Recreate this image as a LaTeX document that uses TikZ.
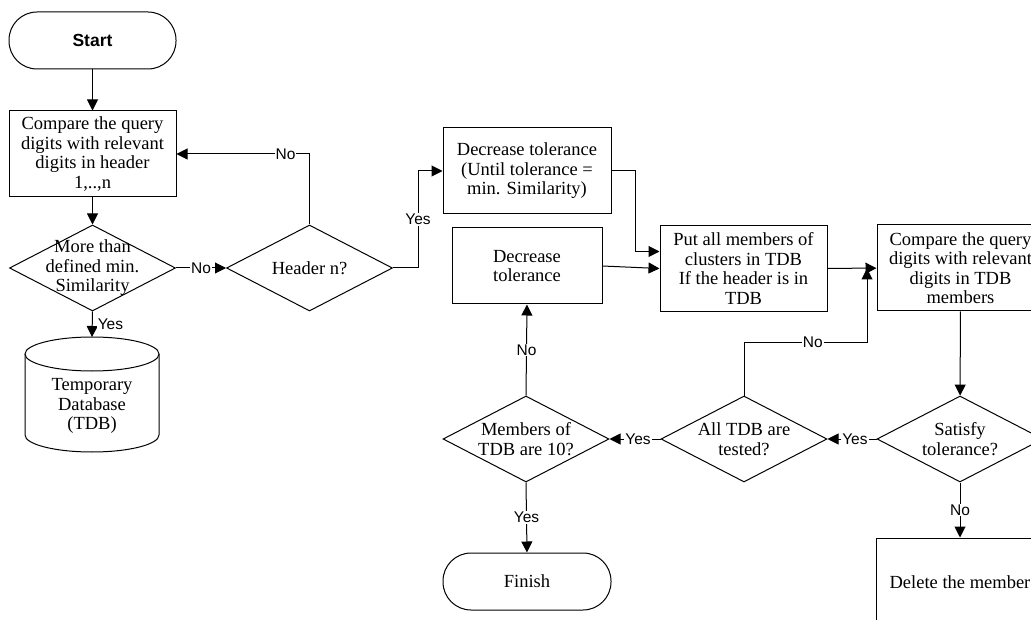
\documentclass[tikz,border=0pt]{standalone}
\usepackage{fontspec}
\setmainfont{Liberation Serif}
\newfontfamily\arialfont{Liberation Sans}
\usetikzlibrary{shapes.geometric,arrows.meta}

\tikzset{
	box/.style={draw, rectangle, align=center, minimum width=167pt, minimum height=86pt, inner sep=0pt},
	term/.style={draw, rectangle, rounded corners=28pt, minimum width=167pt, minimum height=57pt, inner sep=0pt},
	decision/.style={draw, diamond, minimum width=166pt, minimum height=86pt, inner sep=0pt, label={[align=center]center:#1}},
	lbl/.style={font=\arialfont\fontsize{15.5}{17}\selectfont, fill=white, inner sep=1pt},
	arr/.style={-{Triangle[length=11pt,width=11pt]}}
}

\begin{document}
\begin{tikzpicture}[x=1pt, y=-1pt, line width=1pt, font=\fontsize{18.5}{19.5}\selectfont]
	\useasboundingbox (0,0) rectangle (1031,620);
	\clip (0,0) rectangle (1031,620);

	\node[term, font=\arialfont\bfseries\fontsize{17.5}{19}\selectfont] (start) at (92.5,40.5) {Start};
	\node[box] (cmp1) at (92.5,154) {Compare the query\\digits with relevant\\digits in header\\1,..,n};
	\node[decision={More than\\defined min.\\Similarity}] (more) at (92.5,268) {};
	\node[decision={Header n?}] (header) at (309.5,268) {};

	% temporary database
	\coordinate (tdbtop) at (92,337);
	\node[align=center, inner sep=0pt] (tdb) at (92,406) {Temporary\\Database\\(TDB)};
	\draw (92,354) ellipse [x radius=67pt, y radius=17pt];
	\draw (25,354) -- (25,435) arc[start angle=180, end angle=360, x radius=67pt, y radius=17pt] -- (159,354);

	\node[box, minimum width=168pt] (dec1) at (527,171) {Decrease tolerance\\(Until tolerance =\\min. Similarity)};
	\node[box, minimum width=150pt, minimum height=76pt] (dec2) at (527,266) {Decrease\\tolerance};
	\node[box] (put) at (743.5,268.5) {Put all members of\\clusters in TDB\\If the header is in\\TDB};
	\node[box] (cmp2) at (960.5,268) {Compare the query\\digits with relevant\\digits in TDB\\members};

	\node[decision={Members of\\TDB are 10?}] (members) at (526,439) {};
	\node[decision={All TDB are\\tested?}] (alltdb) at (744,439) {};
	\node[decision={Satisfy\\tolerance?}] (satisfy) at (960,439) {};

	\node[term, minimum width=168pt] (finish) at (527,581.5) {Finish};
	\node[box, minimum height=88pt] (delete) at (960,582) {Delete the member};
	\coordinate (merge) at (867,268.5);

	\draw[arr] (start) -- (cmp1);
	\draw[arr] (cmp1) -- (more);
	\draw[arr] (more.east) -- node[lbl]{No} (header.west);
	\draw[arr] (more.south) -- node[lbl, right=4pt]{Yes} (tdbtop);
	\draw[arr] (header.north) |- node[lbl, pos=0.59]{No} (cmp1.east);
	\draw[arr] (header.east) -- ++(25,0) |- node[lbl, pos=0.25]{Yes} (dec1.west);

	\draw[arr] (dec1.east) -- ++(24,0) |- ([yshift=17pt]put.west);
	\draw[arr] (dec2.east) -- (put.west);
	\draw[arr] (put) -- (cmp2);
	\draw[arr] (cmp2) -- (satisfy);

	\draw[arr] (satisfy.west) -- node[lbl, pos=0.44]{Yes} (alltdb.east);
	\draw[arr] (alltdb.west) -- node[lbl, pos=0.44]{Yes} (members.east);
	\draw[arr] (alltdb.north) -- ++(0,-53) -| node[lbl, pos=0.28]{No} (merge);
	\draw[arr] (members.north) -- node[lbl]{No} (dec2.south);
	\draw[arr] (members.south) -- node[lbl]{Yes} (finish.north);
	\draw[arr] (satisfy.south) -- node[lbl]{No} (delete.north);

\end{tikzpicture}
\end{document}
